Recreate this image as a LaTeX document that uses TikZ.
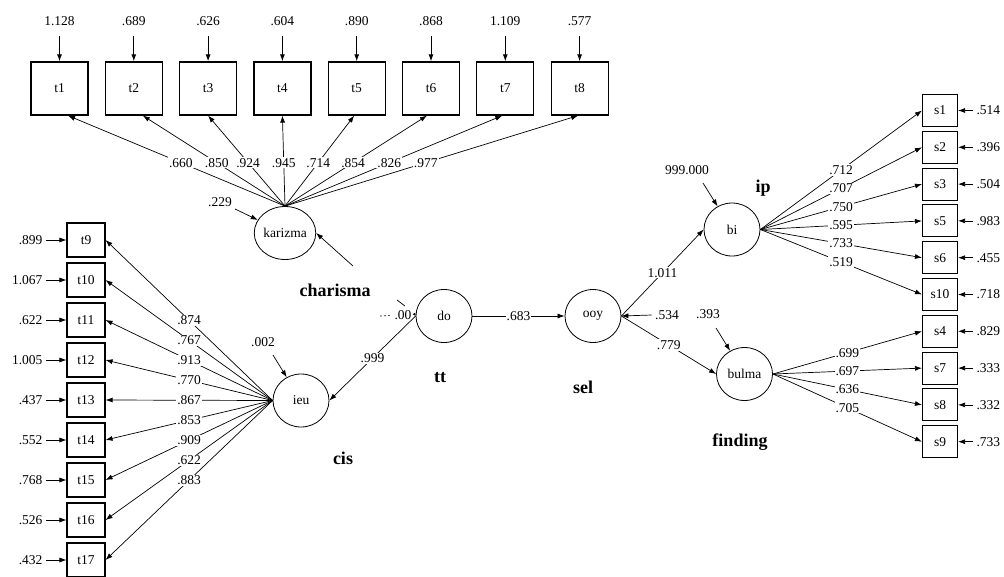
\documentclass[tikz,border=0pt]{standalone}
\usepackage{fontspec}
\setmainfont{Liberation Serif}
\usetikzlibrary{shapes.geometric,arrows.meta}

\begin{document}
\begin{tikzpicture}[x=1pt,y=-1pt,
  every node/.style={font=\fontsize{13.5}{15}\selectfont},
  arr/.style={-{Latex[length=7pt,width=5pt]}, line width=0.7pt},
  bigbox/.style={draw, line width=1.2pt, minimum width=57pt, minimum height=53pt, inner sep=0pt},
  smallbox/.style={draw, line width=1.1pt, minimum width=38pt, minimum height=34pt, inner sep=0pt},
  latent/.style={draw, ellipse, line width=0.8pt, minimum width=56pt, minimum height=53pt, inner sep=0pt},
  est/.style={fill=white, inner sep=1pt},
  title/.style={font=\fontsize{18}{20}\selectfont\bfseries}]
\useasboundingbox (0,0) rectangle (1004,576);

\node[latent] (karizma) at (285,233) {karizma};
\node[latent] (do) at (444,316) {do};
\node[latent] (ooy) at (593,316) {ooy};
\node[latent] (ieu) at (301,400.5) {ieu};
\node[latent] (bi) at (732,229.5) {bi};
\node[latent] (bulma) at (744.5,374) {bulma};

\foreach \i/\err/\load/\dx in {1/1.128/.660/8.5, 2/.689/.850/9, 3/.626/.924/0, 4/.604/.945/0,
    5/.890/.714/-2.5, 6/.868/.854/-4, 7/1.109/.826/-3, 8/.577/.977/-1.5} {
  \node[bigbox] (t\i) at ({59.5+74.3*(\i-1)},88.5) {t\i};
  \node (e\i) at ({59.5+74.3*(\i-1)},21.5) {\err};
  \draw[arr, line width=1pt, shorten <=6pt] (e\i) -- (t\i);
  \draw[arr] (karizma.north) -- node[est, pos=0.48] {\load} ([xshift=\dx]t\i.south);
}

\foreach \i/\err/\load in {9/.899/.874, 10/1.067/.767, 11/.622/.913, 12/1.005/.770,
    13/.437/.867, 14/.552/.853, 15/.768/.909, 16/.526/.622, 17/.432/.883} {
  \node[smallbox] (t\i) at (86,{240+40*(\i-9)}) {t\i};
  \node[anchor=east] (e\i) at (46,{240+40*(\i-9)}) {\err};
  \draw[arr] (e\i) -- (t\i);
  \draw[arr] (ieu.west) -- node[est] {\load} (t\i.east);
}

\foreach \n/\k/\err in {s1/0/.514, s2/1/.396, s3/2/.504, s5/3/.983, s6/4/.455,
    s10/5/.718, s4/6/.829, s7/7/.333, s8/8/.332, s9/9/.733} {
  \node[smallbox, minimum width=35pt, minimum height=32pt] (\n) at (940,{110.5+36.8*\k}) {\n};
  \node[anchor=west] (e\n) at (973,{110.5+36.8*\k}) {\err};
  \draw[arr] (e\n) -- (\n);
}
\foreach \n/\load in {s1/.712, s2/.707, s3/.750, s5/.595, s6/.733, s10/.519}
  \draw[arr] (bi.east) -- node[est] {\load} (\n.west);
\foreach \n/\load in {s4/.699, s7/.697, s8/.636, s9/.705}
  \draw[arr] (bulma.east) -- node[est] {\load} (\n.west);

% residuals of the latent variables
\node (ekar) at (220,202) {.229};
\coordinate (ekar1) at (235,209);
\draw[arr] (ekar1) -- (karizma);
\node (eieu) at (263,342) {.002};
\coordinate (eieu1) at (273,355);
\draw[arr] (eieu1) -- (ieu);
\node (ebi) at (687,170) {999.000};
\coordinate (ebi1) at (703,183);
\draw[arr] (ebi1) -- (bi);
\node (ebul) at (708,314) {.393};
\coordinate (ebul1) at (716,328);
\draw[arr] (ebul1) -- (bulma);
\node (eooy) at (667,315) {.534};
\draw[arr] (eooy.west) -- (ooy.east);

% structural paths
\coordinate (ch1) at (405,306);
\coordinate (ch2) at (397,300);
\coordinate (ch3) at (353,266);
\draw[line width=0.7pt] (ch1) -- (ch2);
\draw[arr] (ch3) -- (karizma.east);
\node (dz) at (403,315) {.00};
\coordinate (dz1) at (380,316);
\draw[dash pattern=on 2pt off 2pt, line width=0.6pt] (dz1) -- (dz);
\draw[-{Latex[length=3pt,width=3pt]}, line width=0.5pt] (dz.east) -- (do.west);
\draw[arr] (do.west) -- node[est] {.999} (ieu.east);
\draw[arr] (do) -- node[est] {.683} (ooy);
\draw[arr] (ooy.east) -- node[est] {1.011} (bi.west);
\draw[arr] (ooy.east) -- node[est] {.779} (bulma.west);

\node[title] (charisma) at (335,290) {charisma};
\node[title] (tt) at (440,378) {tt};
\node[title] (sel) at (583,387) {sel};
\node[title] (cis) at (343,458) {cis};
\node[title] (finding) at (740,442) {finding};
\node[title] (ip) at (763,188) {ip};
\end{tikzpicture}
\end{document}
